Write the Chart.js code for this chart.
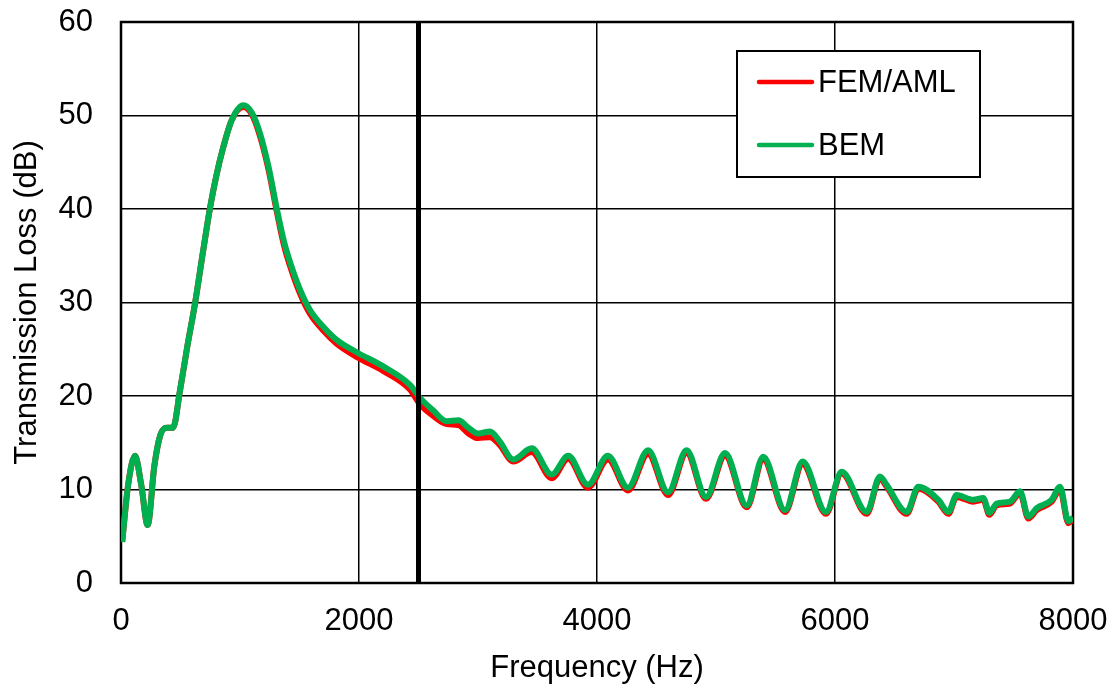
<!DOCTYPE html>
<html>
<head>
<meta charset="utf-8">
<script src="https://cdn.jsdelivr.net/npm/chart.js@4.4.1/dist/chart.umd.min.js"></script>
<style>
  html, body { margin: 0; padding: 0; background: #fff; }
  #wrap { width: 1119px; height: 689px; }
</style>
</head>
<body>
<div id="wrap"><canvas id="tlchart" width="1119" height="689"></canvas></div>
<script>
// frequency points (Hz)
var freq = [10, 60, 118, 170, 224, 280, 330, 384, 437, 496, 560, 622, 690, 748, 800, 857, 930, 1028, 1100, 1168,
  1240, 1308, 1370, 1434, 1510, 1588, 1700, 1812, 1992, 2200, 2428, 2513, 2620, 2737, 2835, 2920, 3000, 3100, 3180,
  3297, 3451, 3619, 3758, 3924, 4092, 4260, 4429, 4597, 4753, 4916, 5076, 5258, 5397, 5580, 5728, 5924, 6056, 6266,
  6378, 6434, 6602, 6700, 6868, 6952, 7022, 7162, 7246, 7297, 7358, 7470, 7555, 7625, 7695, 7821, 7891, 7961, 8000];

var bemTL = [4.4, 10.5, 13.6, 10.5, 6.2, 12.5, 15.8, 16.6, 16.6, 20.6, 25.5, 29.9, 35.5, 40.1, 43.5, 46.5, 49.5, 51.1, 50.3, 48.1,
  44.5, 40.1, 36.5, 33.8, 31.2, 29.2, 27.4, 26.0, 24.6, 23.2, 21.2, 19.8, 18.5, 17.3, 17.4, 16.6, 16.0, 16.2, 15.2,
  13.2, 14.4, 11.6, 13.6, 10.5, 13.6, 10.2, 14.2, 9.7, 14.2, 9.2, 13.9, 8.3, 13.5, 7.8, 13.0, 7.6, 11.9, 7.6,
  11.4, 10.5, 7.6, 10.3, 8.9, 7.6, 9.4, 8.9, 9.1, 7.5, 8.5, 8.7, 9.8, 7.1, 8.0, 8.9, 10.3, 6.6, 7.0];

var femTL = [4.4, 10.5, 13.6, 10.5, 6.2, 12.5, 15.8, 16.6, 16.6, 20.6, 25.5, 29.9, 35.5, 40.1, 43.5, 46.5, 49.5, 50.9, 50.1, 47.8,
  44.2, 39.8, 36.1, 33.4, 30.8, 28.8, 27.0, 25.6, 24.1, 22.7, 20.7, 19.1, 17.9, 17.0, 16.9, 16.0, 15.5, 15.6, 14.8,
  13.0, 14.0, 11.2, 13.3, 10.2, 13.2, 9.9, 13.8, 9.4, 13.9, 9.0, 13.6, 8.1, 13.2, 7.6, 12.7, 7.4, 11.7, 7.4,
  11.2, 10.3, 7.4, 10.1, 8.7, 7.4, 9.2, 8.7, 8.9, 7.3, 8.3, 8.5, 9.6, 6.9, 7.8, 8.7, 10.0, 6.4, 6.9];

var markerFreq = 2500;
var xTicks = [0, 2000, 4000, 6000, 8000];
var yTicks = [0, 10, 20, 30, 40, 50, 60];

function pts(vals) {
  return freq.map(function (f, i) { return { x: f, y: vals[i] }; });
}

var FONT = "'Liberation Sans', Arial, sans-serif";
var FS = 31;

// draw a black frame round the plot and the boxed legend
var framePlugin = {
  id: "frame",
  beforeDatasetsDraw: function (chart) {
    var a = chart.chartArea, c = chart.ctx;
    c.save();
    c.strokeStyle = "#000";
    c.lineWidth = 2.5;
    c.strokeRect(a.left, a.top, a.right - a.left, a.bottom - a.top);
    c.restore();
  },
  afterDraw: function (chart) {
    var c = chart.ctx;
    var bx = 737, by = 51, bw = 243, bh = 126;
    c.save();
    c.fillStyle = "#fff";
    c.fillRect(bx, by, bw, bh);
    c.strokeStyle = "#000";
    c.lineWidth = 2;
    c.strokeRect(bx, by, bw, bh);
    var items = [chart.data.datasets[0], chart.data.datasets[1]];
    items.forEach(function (ds, i) {
      var y = 82 + i * 63;
      c.strokeStyle = ds.borderColor;
      c.lineWidth = 4.5;
      c.lineCap = "round";
      c.beginPath();
      c.moveTo(759, y);
      c.lineTo(812, y);
      c.stroke();
      c.fillStyle = "#000";
      c.font = FS + "px " + FONT;
      c.textBaseline = "middle";
      c.fillText(ds.label, 818, y + 1);
    });
    c.restore();
  }
};

new Chart(document.getElementById("tlchart").getContext("2d"), {
  type: "line",
  data: {
    datasets: [
      {
        label: "FEM/AML",
        data: pts(femTL),
        borderColor: "#ff0000",
        borderWidth: 6,
        pointRadius: 0,
        fill: false,
        cubicInterpolationMode: "monotone",
        order: 2
      },
      {
        label: "BEM",
        data: pts(bemTL),
        borderColor: "#00b050",
        borderWidth: 6,
        pointRadius: 0,
        fill: false,
        cubicInterpolationMode: "monotone",
        order: 1
      },
      {
        label: "",
        data: [{ x: markerFreq, y: 0 }, { x: markerFreq, y: 60 }],
        borderColor: "#000",
        borderWidth: 5,
        pointRadius: 0,
        fill: false,
        order: 0
      }
    ]
  },
  options: {
    responsive: false,
    animation: false,
    layout: { padding: { top: 22, right: 46, left: 0, bottom: 0 } },
    plugins: {
      legend: { display: false },
      tooltip: { enabled: false }
    },
    scales: {
      x: {
        type: "linear",
        min: 0,
        max: 8000,
        afterBuildTicks: function (s) { s.ticks = xTicks.map(function (v) { return { value: v }; }); },
        afterFit: function (s) { s.height = 106; s.paddingLeft = 0; s.paddingRight = 0; },
        grid: { color: "#000", lineWidth: 1.5, drawTicks: false },
        border: { display: false },
        ticks: { color: "#000", font: { family: FONT, size: FS }, padding: 20, maxRotation: 0,
          callback: function (v) { return String(v); } },
        title: { display: true, text: "Frequency (Hz)", color: "#000", font: { family: FONT, size: FS }, padding: { top: 0, bottom: 2 } }
      },
      y: {
        min: 0,
        max: 60,
        afterBuildTicks: function (s) { s.ticks = yTicks.map(function (v) { return { value: v }; }); },
        afterFit: function (s) { s.width = 121; s.paddingTop = 0; s.paddingBottom = 0; },
        grid: { color: "#000", lineWidth: 1.5, drawTicks: false },
        border: { display: false },
        ticks: { color: "#000", font: { family: FONT, size: FS }, padding: 28,
          callback: function (v) { return String(v); } },
        title: { display: true, text: "Transmission Loss (dB)", color: "#000", font: { family: FONT, size: FS }, padding: { top: 9, bottom: 0 } }
      }
    }
  },
  plugins: [framePlugin]
});
</script>
</body>
</html>
